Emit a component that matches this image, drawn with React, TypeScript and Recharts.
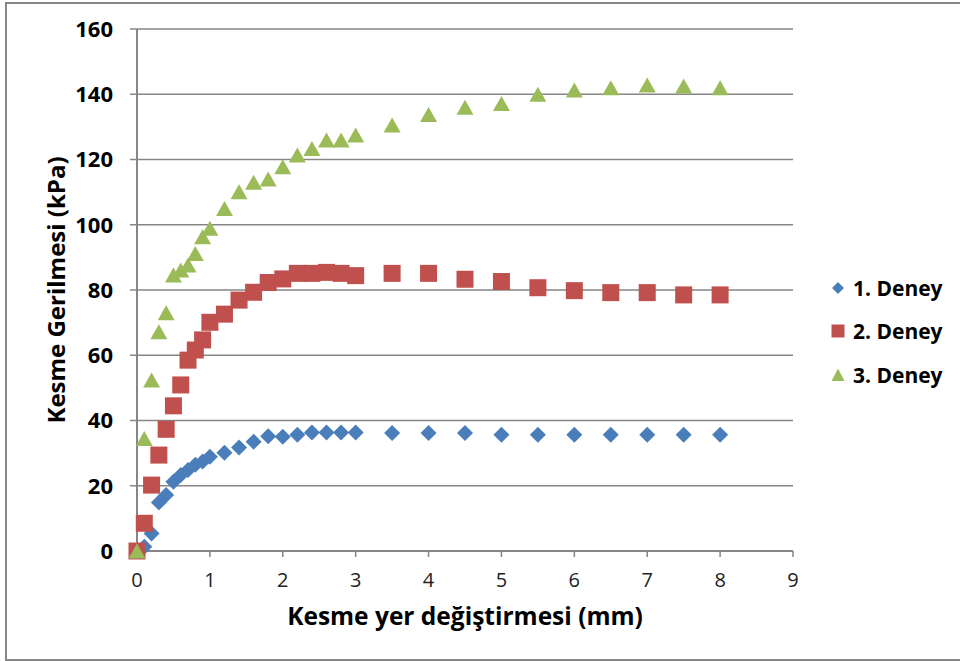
import React from "react";
import {
  ScatterChart,
  Scatter,
  XAxis,
  YAxis,
  CartesianGrid,
  Legend,
  Label,
} from "recharts";

const xValues = [
  0, 0.1, 0.2, 0.3, 0.4, 0.5, 0.6, 0.7, 0.8, 0.9, 1.0, 1.2, 1.4, 1.6, 1.8, 2.0,
  2.2, 2.4, 2.6, 2.8, 3.0, 3.5, 4.0, 4.5, 5.0, 5.5, 6.0, 6.5, 7.0, 7.5, 8.0,
];
const deney1 = [
  0, 1.3, 5.4, 14.9, 17.2, 21.2, 23.3, 24.8, 26.4, 27.4, 28.9, 30.1, 31.7, 33.5,
  35.2, 35.0, 35.6, 36.3, 36.3, 36.3, 36.3, 36.2, 36.2, 36.2, 35.6, 35.6, 35.6,
  35.6, 35.6, 35.6, 35.6,
];
const deney2 = [
  0, 8.5, 20.2, 29.4, 37.3, 44.5, 50.9, 58.5, 61.6, 64.7, 70.1, 72.6, 76.9,
  79.3, 82.3, 83.4, 85.1, 85.1, 85.4, 85.1, 84.4, 85.1, 85.1, 83.3, 82.6, 80.7,
  79.8, 79.2, 79.2, 78.5, 78.5,
];
const deney3 = [
  0, 34.5, 52.4, 67.2, 73.0, 84.6, 86.1, 87.7, 91.2, 96.3, 98.9, 105.0, 110.1,
  113.0, 114.0, 117.8, 121.4, 123.4, 126.0, 126.0, 127.5, 130.6, 133.8, 136.0,
  137.2, 140.0, 141.3, 142.0, 142.8, 142.5, 142.0,
];
const seriesNames = ["1. Deney", "2. Deney", "3. Deney"];
const xTicks = [0, 1, 2, 3, 4, 5, 6, 7, 8, 9];
const yTicks = [0, 20, 40, 60, 80, 100, 120, 140, 160];

const COLORS = ["#4A7EBB", "#C0504D", "#9BBB59"];
const FONT = "'Open Sans', Lato, sans-serif";
const GRID = "#868686";

const toPoints = (ys: number[]) => xValues.map((x, i) => ({ x, y: ys[i] }));
const data1 = toPoints(deney1);
const data2 = toPoints(deney2);
const data3 = toPoints(deney3);

const Diamond = (props: any) => {
  const { cx, cy } = props;
  const r = 8;
  return (
    <polygon
      points={`${cx},${cy - r} ${cx + r},${cy} ${cx},${cy + r} ${cx - r},${cy}`}
      fill={COLORS[0]}
    />
  );
};
const Square = (props: any) => {
  const { cx, cy } = props;
  const r = 8.5;
  return <rect x={cx - r} y={cy - r} width={2 * r} height={2 * r} fill={COLORS[1]} />;
};
const Triangle = (props: any) => {
  const { cx, cy } = props;
  const w = 8.5;
  const h = 7.5;
  return (
    <polygon
      points={`${cx},${cy - h} ${cx + w},${cy + h} ${cx - w},${cy + h}`}
      fill={COLORS[2]}
    />
  );
};

const legendMarkers = [
  <polygon key="d" points="10,4 16,10 10,16 4,10" fill={COLORS[0]} />,
  <rect key="s" x="3.5" y="3.5" width="13" height="13" fill={COLORS[1]} />,
  <polygon key="t" points="10,3.5 16.5,16 3.5,16" fill={COLORS[2]} />,
];

const LegendContent = () => (
  <div style={{ fontFamily: FONT }}>
    {seriesNames.map((name, i) => (
      <div
        key={name}
        style={{ display: "flex", alignItems: "center", height: 43.5 }}
      >
        <svg width={20} height={20} style={{ display: "block" }}>
          {legendMarkers[i]}
        </svg>
        <span
          style={{
            marginLeft: 5,
            fontSize: 21,
            fontWeight: 700,
            color: "#000",
            whiteSpace: "nowrap",
            lineHeight: "20px",
          }}
        >
          {name}
        </span>
      </div>
    ))}
  </div>
);

const YTitle = (props: any) => {
  const vb = props.viewBox || {};
  const cx = 55;
  const cy = (vb.y ?? 29) + (vb.height ?? 522) / 2;
  return (
    <text
      x={cx}
      y={cy}
      transform={`rotate(-90, ${cx}, ${cy})`}
      textAnchor="middle"
      dominantBaseline="central"
      fontFamily={FONT}
      fontWeight={700}
      fontSize={24}
      fill="#000"
    >
      Kesme Gerilmesi (kPa)
    </text>
  );
};

export default function App() {
  return (
    <div
      style={{
        position: "absolute",
        left: 0,
        top: 0,
        width: 960,
        height: 661,
        overflow: "hidden",
        background: "#fff",
      }}
    >
      <div
        style={{
          position: "absolute",
          left: 5,
          top: 2,
          width: 1000,
          height: 655,
          border: "2px solid #868686",
        }}
      />
      <div style={{ position: "absolute", left: 0, top: 0 }}>
        <ScatterChart
          width={960}
          height={661}
          margin={{ top: 29, right: 167, bottom: 0, left: 0 }}
        >
          <CartesianGrid
            vertical={false}
            stroke={GRID}
            strokeWidth={1.5}
          />
          <XAxis
            type="number"
            dataKey="x"
            domain={[0, 9]}
            ticks={xTicks}
            interval={0}
            height={110}
            axisLine={{ stroke: GRID, strokeWidth: 2 }}
            tickLine={{ stroke: GRID, strokeWidth: 1.5 }}
            tickSize={6}
            tickMargin={16}
            tick={{ fontFamily: FONT, fontSize: 20, fill: "#222" }}
          >
            <Label
              value="Kesme yer değiştirmesi (mm)"
              position="insideBottom"
              offset={36}
              style={{
                fontFamily: FONT,
                fontWeight: 700,
                fontSize: 24.5,
                fill: "#000",
              }}
            />
          </XAxis>
          <YAxis
            type="number"
            dataKey="y"
            domain={[0, 160]}
            ticks={yTicks}
            interval={0}
            width={137}
            axisLine={{ stroke: GRID, strokeWidth: 2 }}
            tickLine={{ stroke: GRID, strokeWidth: 1.5 }}
            tickSize={7}
            tickMargin={17}
            tick={{
              fontFamily: FONT,
              fontSize: 22,
              fontWeight: 700,
              fill: "#000",
            }}
          >
            <Label content={<YTitle />} />
          </YAxis>
          <Legend
            layout="vertical"
            align="center"
            verticalAlign="middle"
            content={<LegendContent />}
            wrapperStyle={{ left: 828, top: 266, width: 132 }}
          />
          <Scatter
            name={seriesNames[0]}
            data={data1}
            fill={COLORS[0]}
            shape={<Diamond />}
            isAnimationActive={false}
          />
          <Scatter
            name={seriesNames[1]}
            data={data2}
            fill={COLORS[1]}
            shape={<Square />}
            isAnimationActive={false}
          />
          <Scatter
            name={seriesNames[2]}
            data={data3}
            fill={COLORS[2]}
            shape={<Triangle />}
            isAnimationActive={false}
          />
        </ScatterChart>
      </div>
    </div>
  );
}
